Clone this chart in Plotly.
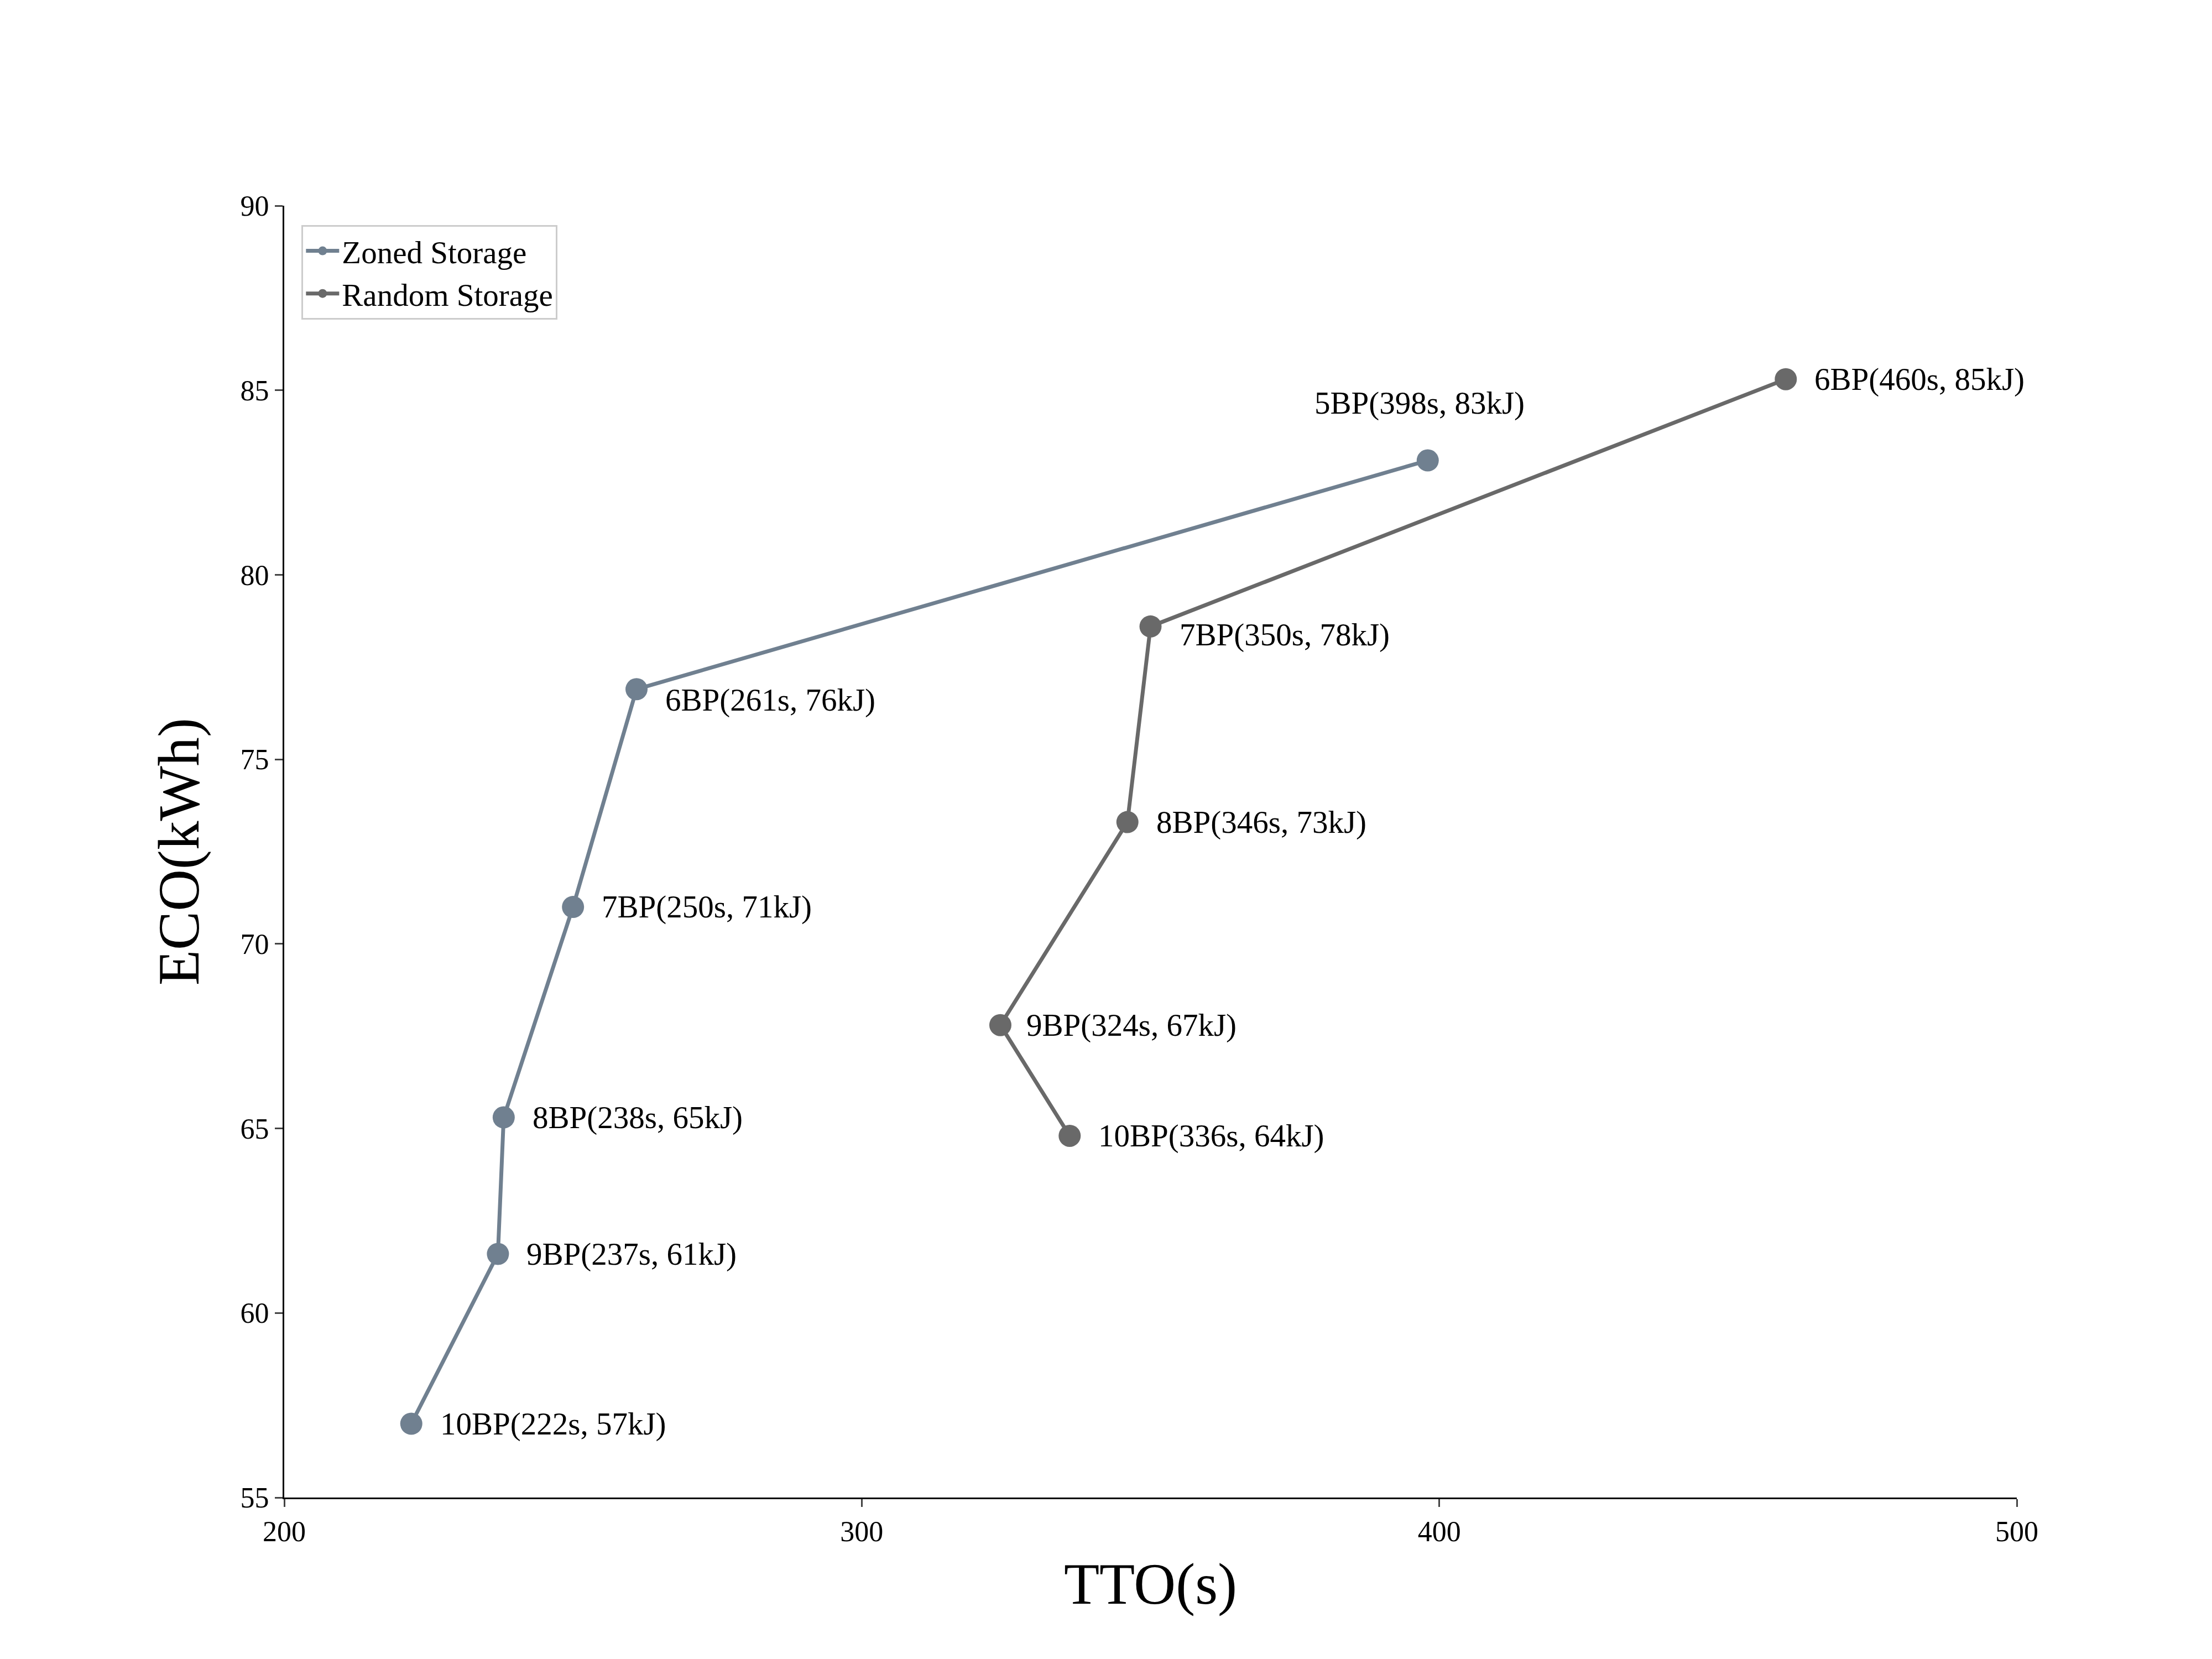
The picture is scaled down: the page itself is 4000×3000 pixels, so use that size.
import plotly.graph_objects as go

zoned_tto = [222, 237, 238, 250, 261, 398]
zoned_eco = [57.0, 61.6, 65.3, 71.0, 76.9, 83.1]
zoned_lbl = ["10BP(222s, 57kJ)", "9BP(237s, 61kJ)", "8BP(238s, 65kJ)",
             "7BP(250s, 71kJ)", "6BP(261s, 76kJ)", "5BP(398s, 83kJ)"]

random_tto = [336, 324, 346, 350, 460]
random_eco = [64.8, 67.8, 73.3, 78.6, 85.3]
random_lbl = ["10BP(336s, 64kJ)", "9BP(324s, 67kJ)", "8BP(346s, 73kJ)",
              "7BP(350s, 78kJ)", "6BP(460s, 85kJ)"]

font = "Liberation Serif"
fig = go.Figure()

fig.add_trace(go.Scatter(x=zoned_tto, y=zoned_eco, mode='lines+markers', name='Zoned Storage',
                         line=dict(color='#708090', width=7), marker=dict(size=40, color='#708090')))
fig.add_trace(go.Scatter(x=random_tto, y=random_eco, mode='lines+markers', name='Random Storage',
                         line=dict(color='#696969', width=7), marker=dict(size=40, color='#696969')))

for x, y, t in zip(zoned_tto, zoned_eco, zoned_lbl):
	if t.startswith("5BP"):
		fig.add_annotation(x=x, y=y, text=t, showarrow=False, xanchor='center', yanchor='bottom',
		                   xshift=-15, yshift=70, font=dict(family=font, size=57, color='black'))
	else:
		yshift = -20 if t.startswith("6BP") else 0
		fig.add_annotation(x=x, y=y, text=t, showarrow=False, xanchor='left', xshift=50, yshift=yshift,
		                   font=dict(family=font, size=57, color='black'))
for x, y, t in zip(random_tto, random_eco, random_lbl):
	yshift = -15 if t.startswith("7BP") else 0
	xs = 50 if not t.startswith("9BP") else 45
	fig.add_annotation(x=x, y=y, text=t, showarrow=False, xanchor='left', xshift=xs, yshift=yshift,
	                   font=dict(family=font, size=57, color='black'))

axis_common = dict(showline=True, linecolor='black', linewidth=3, ticks='outside', ticklen=14,
                   tickwidth=3, showgrid=False, zeroline=False, tickfont=dict(family=font, size=52, color='black'))

fig.update_layout(
	width=4000, height=3000,
	plot_bgcolor='white', paper_bgcolor='white',
	margin=dict(l=506, r=361, t=364, b=300),
	xaxis=dict(range=[200, 500], tickvals=[200, 300, 400, 500],
	           title=dict(text='TTO(s)', font=dict(family=font, size=105, color='black'), standoff=30), **axis_common),
	yaxis=dict(range=[55, 90], tickvals=[55, 60, 65, 70, 75, 80, 85, 90],
	           title=dict(text='ECO(kWh)', font=dict(family=font, size=105, color='black'), standoff=40), **axis_common),
	legend=dict(x=0.01, y=0.985, xanchor='left', yanchor='top', bordercolor='#cccccc', borderwidth=3,
	            font=dict(family=font, size=57, color='black'), bgcolor='white', itemwidth=60),
)

fig.write_html("out.html")
